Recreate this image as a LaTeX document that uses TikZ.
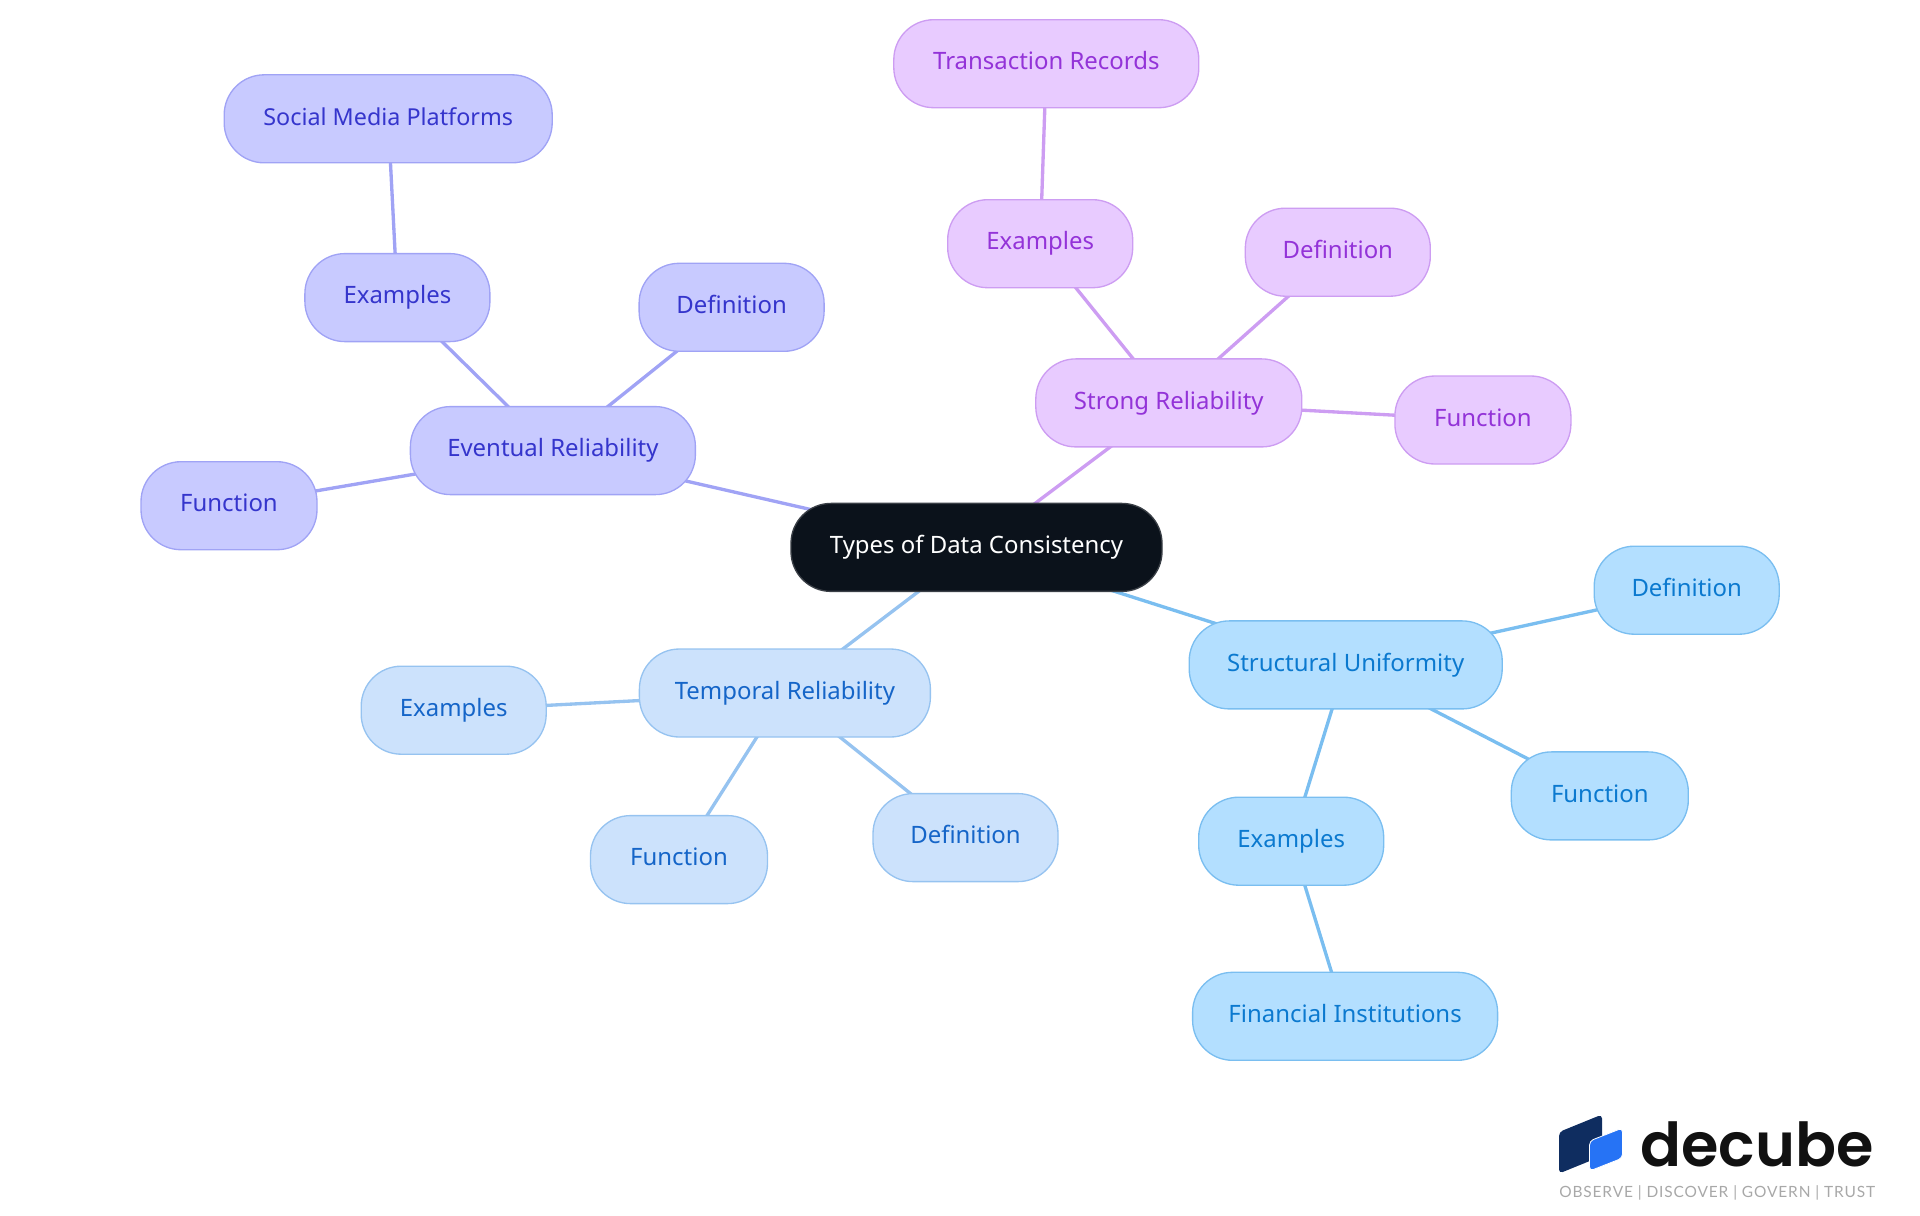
\documentclass[tikz,border=0pt]{standalone}
\usepackage{fontspec}
\setmainfont{Noto Sans}
\newfontfamily\logofont{Poppins SemiBold}
\newfontfamily\tagfont[LetterSpace=5.6]{Lato}
\usetikzlibrary{backgrounds}
\definecolor{evF}{HTML}{C8CAFF}\definecolor{evD}{HTML}{A0A3F5}\definecolor{evT}{HTML}{3535CC}
\definecolor{stF}{HTML}{E8CBFF}\definecolor{stD}{HTML}{CD9DF2}\definecolor{stT}{HTML}{9333D8}
\definecolor{teF}{HTML}{CCE2FC}\definecolor{teD}{HTML}{96C3F0}\definecolor{teT}{HTML}{1565C8}
\definecolor{unF}{HTML}{B3DFFF}\definecolor{unD}{HTML}{7ABEF0}\definecolor{unT}{HTML}{0B79CF}
\definecolor{rootF}{HTML}{0B121B}\definecolor{rootD}{HTML}{3A3F46}
\definecolor{logoDark}{HTML}{0F2D60}\definecolor{logoBlue}{HTML}{2673F5}\definecolor{logoInk}{HTML}{111111}\definecolor{logoGrey}{HTML}{A8A8A8}
\tikzset{
  pill/.style={rectangle,rounded corners=30pt,inner sep=0pt,minimum height=66pt,text height=14pt,text depth=4.7pt,line width=1pt,font=\fontsize{17.95pt}{20pt}\selectfont},
  pillw/.style={minimum width=#1*0.75pt},
  evpill/.style={pill,fill=evF,draw=evD,text=evT},
  stpill/.style={pill,fill=stF,draw=stD,text=stT},
  tepill/.style={pill,fill=teF,draw=teD,text=teT},
  unpill/.style={pill,fill=unF,draw=unD,text=unT},
  rootpill/.style={pill,fill=rootF,draw=rootD,text=white},
  evline/.style={line width=2.5pt,draw=evD},
  stline/.style={line width=2.5pt,draw=stD},
  teline/.style={line width=2.5pt,draw=teD},
  unline/.style={line width=2.5pt,draw=unD},
}
\begin{document}
\begin{tikzpicture}[x=0.75pt,y=-0.75pt]
\useasboundingbox (0,0) rectangle (1920,1215);
\node[rootpill,pillw=371] (root) at (976.5,547.4) {Types of Data Consistency};
\node[evpill,pillw=285] (ev) at (552.9,450.6) {Eventual Reliability};
\node[evpill,pillw=328,font=\fontsize{17.5pt}{20pt}\selectfont] (evsoc) at (388.2,118.8) {Social Media Platforms};
\node[evpill,pillw=185] (evex) at (397.4,297.6) {Examples};
\node[evpill,pillw=185] (evdef) at (731.6,307.3) {Definition};
\node[evpill,pillw=176] (evfun) at (229,505.7) {Function};
\node[stpill,pillw=266] (st) at (1168.8,402.9) {Strong Reliability};
\node[stpill,pillw=305] (sttr) at (1046.3,63.7) {Transaction Records};
\node[stpill,pillw=185] (stex) at (1040.2,243.7) {Examples};
\node[stpill,pillw=185] (stdef) at (1337.8,252.2) {Definition};
\node[stpill,pillw=176] (stfun) at (1482.9,420) {Function};
\node[tepill,pillw=291] (te) at (784.9,693) {Temporal Reliability};
\node[tepill,pillw=185] (teex) at (453.7,710.2) {Examples};
\node[tepill,pillw=177] (tefun) at (679,859.6) {Function};
\node[tepill,pillw=185] (tedef) at (965.5,837.6) {Definition};
\node[unpill,pillw=313] (un) at (1345.7,664.9) {Structural Uniformity};
\node[unpill,pillw=185] (undef) at (1686.7,590.2) {Definition};
\node[unpill,pillw=177] (unfun) at (1599.8,795.9) {Function};
\node[unpill,pillw=185] (unex) at (1291.2,841.2) {Examples};
\node[unpill,pillw=305] (unfin) at (1345.1,1016.3) {Financial Institutions};
\begin{pgfonlayer}{background}
\draw[evline] (root.center) -- (ev.center);
\draw[evline] (ev.center) -- (evex.center);
\draw[evline] (evex.center) -- (evsoc.center);
\draw[evline] (ev.center) -- (evdef.center);
\draw[evline] (ev.center) -- (evfun.center);
\draw[stline] (root.center) -- (st.center);
\draw[stline] (st.center) -- (stex.center);
\draw[stline] (stex.center) -- (sttr.center);
\draw[stline] (st.center) -- (stdef.center);
\draw[stline] (st.center) -- (stfun.center);
\draw[teline] (root.center) -- (te.center);
\draw[teline] (te.center) -- (teex.center);
\draw[teline] (te.center) -- (tefun.center);
\draw[teline] (te.center) -- (tedef.center);
\draw[unline] (root.center) -- (un.center);
\draw[unline] (un.center) -- (undef.center);
\draw[unline] (un.center) -- (unfun.center);
\draw[unline] (un.center) -- (unex.center);
\draw[unline] (unex.center) -- (unfin.center);
\end{pgfonlayer}
% logo
\fill[logoDark,rounded corners=3pt] (1559,1132) -- (1602,1114.5) -- (1602,1156) -- (1559,1173.5) -- cycle;
\fill[logoBlue,draw=white,line width=0.6pt,rounded corners=3pt] (1589.5,1141) -- (1622.5,1128) -- (1622.5,1158) -- (1589.5,1171) -- cycle;
\node[anchor=base west,inner sep=0pt,text=logoInk,font=\logofont\fontsize{45.4pt}{50pt}\selectfont] (brand) at (1640,1166) {decube};
\node[anchor=base west,inner sep=0pt,text=logoGrey,font=\tagfont\fontsize{11.6pt}{13pt}\selectfont] (tag) at (1559,1197) {OBSERVE | DISCOVER | GOVERN | TRUST};
\end{tikzpicture}
\end{document}
